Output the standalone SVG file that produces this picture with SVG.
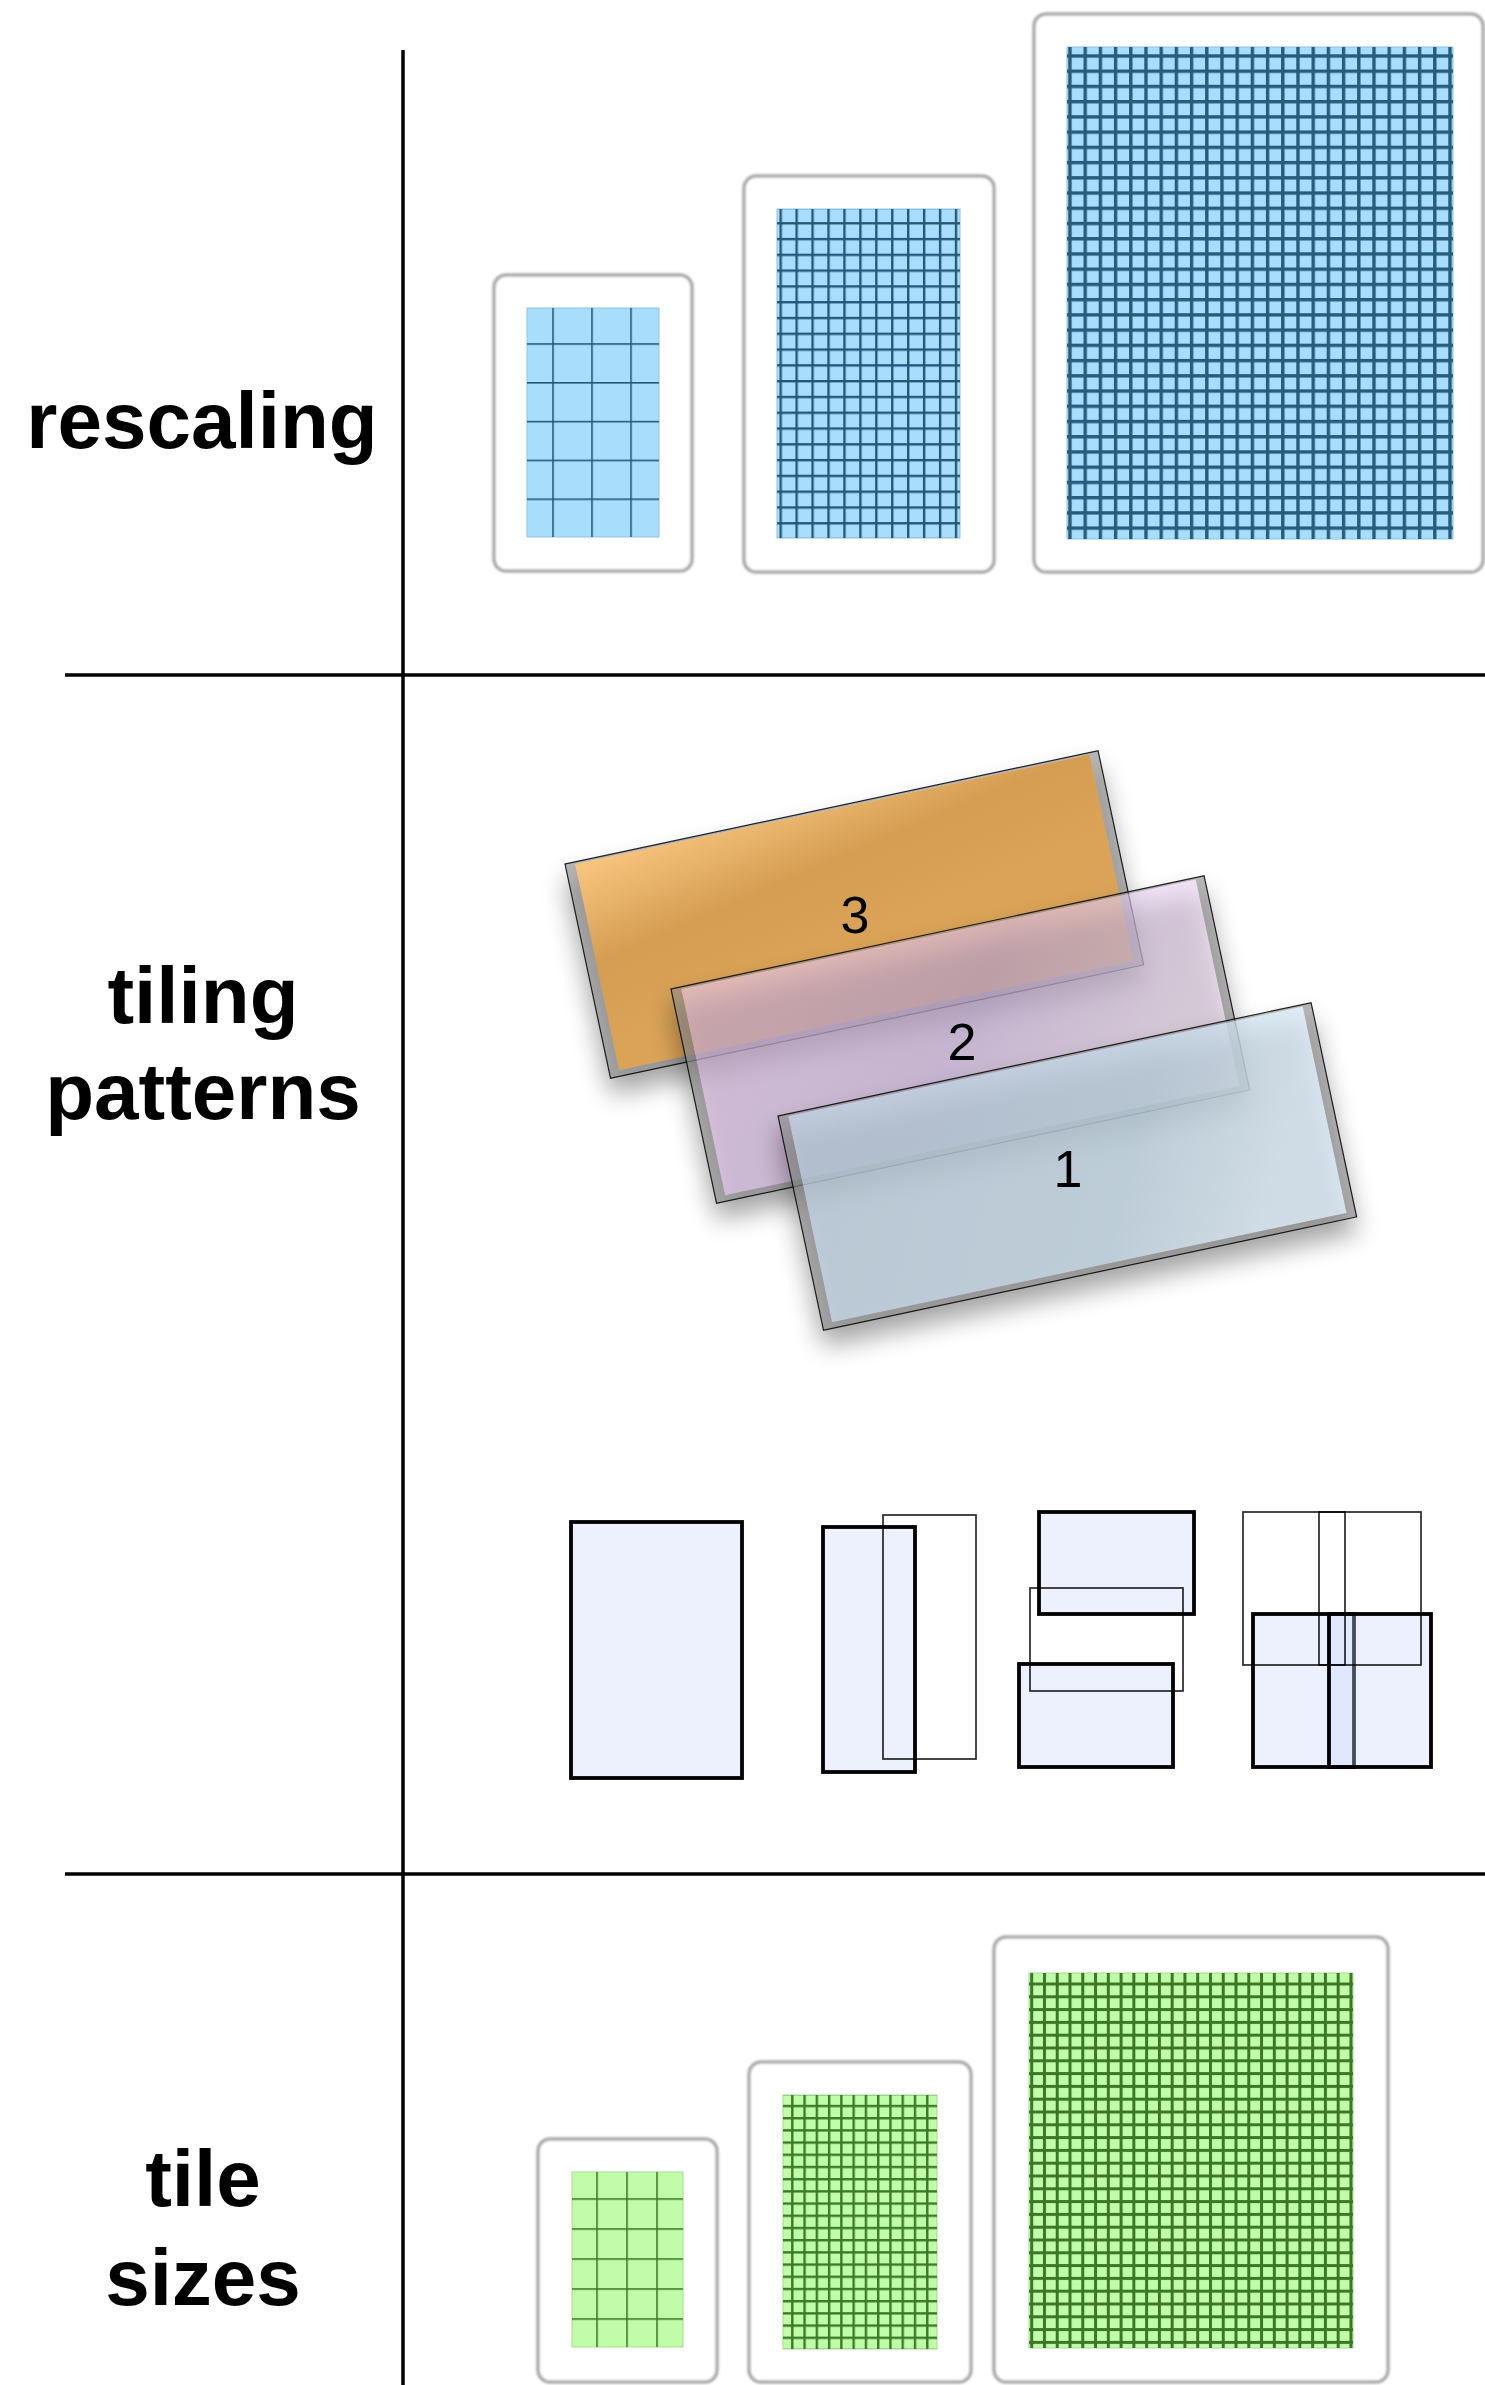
<svg xmlns="http://www.w3.org/2000/svg" width="1485" height="2385" viewBox="0 0 1485 2385">
<defs>
<style>
.lbl{font-family:"Liberation Sans",Arial,sans-serif;font-weight:bold;font-size:80px;fill:#000;text-anchor:middle}
.num{font-family:"Liberation Sans",Arial,sans-serif;font-size:52px;fill:#000;text-anchor:middle}
.rule{stroke:#000;stroke-width:3.5;fill:none}
.frame{fill:#fff;stroke:#ababab;stroke-width:3.5}
.thick{stroke:#000;stroke-width:3.8;fill:#c8d7fa;fill-opacity:0.35}
.thin{stroke:#000;stroke-width:1.7;fill:none;stroke-opacity:0.85}
.bluegrid{fill:#a9ddfc;stroke:#8cc4e4;stroke-width:1}
.greengrid{fill:#c1fca9;stroke:#a6dc90;stroke-width:1}
.band{fill:#909090;fill-opacity:0.65;fill-rule:evenodd}
.edge{fill:none;stroke:#000;stroke-width:1.2;stroke-opacity:0.85}
.shadow{fill:#000;opacity:0.36}
</style>
<filter id="soft" x="-5%" y="-5%" width="110%" height="110%"><feGaussianBlur stdDeviation="1.3"/></filter>
<filter id="blur" x="-30%" y="-40%" width="160%" height="180%"><feGaussianBlur stdDeviation="13"/></filter>
<pattern id="pF1" patternUnits="userSpaceOnUse" x="552.2" y="343.2" width="39" height="38.8"><rect x="0" y="0" width="1.6" height="38.8" fill="#24587a"/><rect x="0" y="0" width="39" height="1.6" fill="#24587a"/></pattern>
<pattern id="pF2" patternUnits="userSpaceOnUse" x="779.5" y="222.1" width="15.94" height="15.79"><rect x="0" y="0" width="2.4" height="15.79" fill="#24587a"/><rect x="0" y="0" width="15.94" height="2.4" fill="#24587a"/></pattern>
<pattern id="pF3" patternUnits="userSpaceOnUse" x="1068.3" y="54.3" width="15.2" height="15.23"><rect x="0" y="0" width="3.4" height="15.23" fill="#265c7c"/><rect x="0" y="0" width="15.2" height="3.4" fill="#265c7c"/></pattern>
<pattern id="pG1" patternUnits="userSpaceOnUse" x="596.2" y="2198.2" width="30" height="30"><rect x="0" y="0" width="1.6" height="30" fill="#3b7a26"/><rect x="0" y="0" width="30" height="1.6" fill="#3b7a26"/></pattern>
<pattern id="pG2" patternUnits="userSpaceOnUse" x="791.1" y="2104.8" width="12.27" height="12.2"><rect x="0" y="0" width="2.4" height="12.2" fill="#3b7a26"/><rect x="0" y="0" width="12.27" height="2.4" fill="#3b7a26"/></pattern>
<pattern id="pG3" patternUnits="userSpaceOnUse" x="1030.2" y="1982.5" width="12.77" height="12.8"><rect x="0" y="0" width="3" height="12.8" fill="#3a7826"/><rect x="0" y="0" width="12.77" height="3" fill="#3a7826"/></pattern>
<linearGradient id="gOr" x1="0" y1="0" x2="0.35" y2="0.7"><stop offset="0" stop-color="#f9c680"/><stop offset="0.55" stop-color="#d49d52"/><stop offset="1" stop-color="#daa357"/></linearGradient>
<linearGradient id="gPu" x1="0" y1="0" x2="1" y2="0.3"><stop offset="0" stop-color="#eccaf2"/><stop offset="0.6" stop-color="#dcc0ec"/><stop offset="1" stop-color="#f2def6"/></linearGradient>
<linearGradient id="gBl" x1="0" y1="0" x2="1" y2="0.2"><stop offset="0" stop-color="#c0d2e2"/><stop offset="0.7" stop-color="#c4d8e6"/><stop offset="1" stop-color="#dcecf8"/></linearGradient>
</defs>

<rect x="0" y="0" width="1485" height="2385" fill="#fff"/>

<g id="rules">
<line class="rule" x1="403" y1="50" x2="403" y2="2385"/>
<line class="rule" x1="65" y1="675" x2="1485" y2="675"/>
<line class="rule" x1="65" y1="1874" x2="1485" y2="1874"/>
</g>

<g id="labels">
<text class="lbl" x="202" y="448">rescaling</text>
<text class="lbl" x="203" y="1023">tiling</text>
<text class="lbl" x="203" y="1119">patterns</text>
<text class="lbl" x="203" y="2206">tile</text>
<text class="lbl" x="203" y="2305">sizes</text>
</g>

<g id="rescale-small">
<rect class="frame" x="494" y="275" width="198" height="296" rx="12" filter="url(#soft)"/>
<rect class="bluegrid" x="527" y="308" width="132" height="229"/>
<rect x="527" y="308" width="132" height="229" fill="url(#pF1)"/>
</g>
<g id="rescale-medium">
<rect class="frame" x="744" y="176" width="250" height="396" rx="12" filter="url(#soft)"/>
<rect class="bluegrid" x="777" y="209" width="183" height="329"/>
<rect x="777" y="209" width="183" height="329" fill="url(#pF2)"/>
</g>
<g id="rescale-large">
<rect class="frame" x="1034" y="14" width="449" height="558" rx="12" filter="url(#soft)"/>
<rect class="bluegrid" x="1067" y="47" width="386" height="492"/>
<rect x="1067" y="47" width="386" height="492" fill="url(#pF3)"/>
</g>

<g id="tile3">
<rect class="shadow" transform="translate(565,880) rotate(-12)" width="545" height="219" filter="url(#blur)"/>
<g transform="translate(565,864) rotate(-12)">
<rect x="10" y="2" width="526" height="211" fill="url(#gOr)"/>
<path class="band" d="M0 0H545V219H0Z M10 2V213H536V2Z"/>
<rect class="edge" x="0" y="0" width="545" height="219"/>
</g>
<text class="num" x="855" y="933">3</text>
</g>
<g id="tile2">
<rect class="shadow" transform="translate(671,1005) rotate(-12)" width="545" height="219" filter="url(#blur)"/>
<g transform="translate(671,989) rotate(-12)">
<rect x="10" y="2" width="526" height="211" fill="url(#gPu)" opacity="0.62"/>
<path class="band" d="M0 0H545V219H0Z M10 2V213H536V2Z"/>
<rect class="edge" x="0" y="0" width="545" height="219"/>
</g>
<text class="num" x="962" y="1060">2</text>
</g>
<g id="tile1">
<rect class="shadow" transform="translate(778,1132) rotate(-12)" width="545" height="219" filter="url(#blur)"/>
<g transform="translate(778,1116) rotate(-12)">
<rect x="10" y="2" width="526" height="211" fill="url(#gBl)" opacity="0.78"/>
<path class="band" d="M0 0H545V219H0Z M10 2V213H536V2Z"/>
<rect class="edge" x="0" y="0" width="545" height="219"/>
</g>
<text class="num" x="1068" y="1187">1</text>
</g>

<g id="pattern-single">
<rect class="thick" x="571" y="1522" width="171" height="256"/>
</g>
<g id="pattern-horizontal">
<rect class="thick" x="823" y="1527" width="92" height="245"/>
<rect class="thin" x="883" y="1515" width="93" height="244"/>
</g>
<g id="pattern-vertical">
<rect class="thick" x="1039" y="1512" width="155" height="102"/>
<rect class="thick" x="1019" y="1664" width="154" height="103"/>
<rect class="thin" x="1030" y="1588" width="153" height="103"/>
</g>
<g id="pattern-quad">
<rect class="thick" x="1253" y="1614" width="101" height="153"/>
<rect class="thick" x="1329" y="1614" width="102" height="153"/>
<rect class="thin" x="1243" y="1512" width="102" height="153"/>
<rect class="thin" x="1319" y="1512" width="102" height="153"/>
</g>

<g id="size-small">
<rect class="frame" x="538" y="2139" width="179" height="243" rx="12" filter="url(#soft)"/>
<rect class="greengrid" x="572" y="2172" width="111" height="175"/>
<rect x="572" y="2172" width="111" height="175" fill="url(#pG1)"/>
</g>
<g id="size-medium">
<rect class="frame" x="749" y="2062" width="222" height="320" rx="12" filter="url(#soft)"/>
<rect class="greengrid" x="783" y="2095" width="154" height="254"/>
<rect x="783" y="2095" width="154" height="254" fill="url(#pG2)"/>
</g>
<g id="size-large">
<rect class="frame" x="994" y="1937" width="394" height="445" rx="12" filter="url(#soft)"/>
<rect class="greengrid" x="1029" y="1973" width="324" height="375"/>
<rect x="1029" y="1973" width="324" height="375" fill="url(#pG3)"/>
</g>
</svg>
